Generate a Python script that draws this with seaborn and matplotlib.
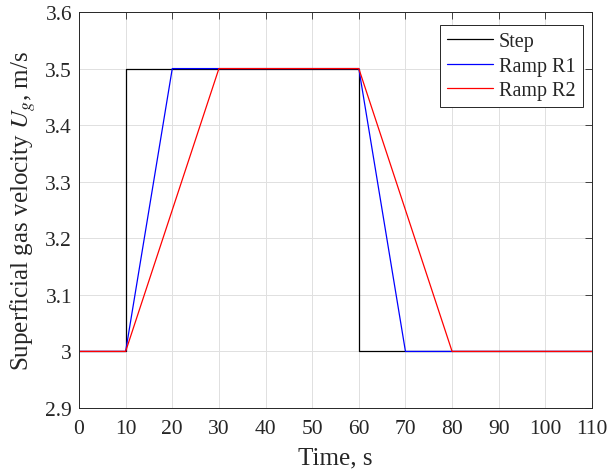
import matplotlib
matplotlib.use("Agg")
import matplotlib.pyplot as plt
import seaborn as sns
import pandas as pd

step_t = [0, 10, 10, 60, 60, 110]
step_u = [3.0, 3.0, 3.5, 3.5, 3.0, 3.0]
r1_t = [0, 10, 20, 60, 70, 110]
r1_u = [3.0, 3.0, 3.5, 3.5, 3.0, 3.0]
r2_t = [0, 10, 30, 60, 80, 110]
r2_u = [3.0, 3.0, 3.5, 3.5, 3.0, 3.0]
names = ["Step", "Ramp R1", "Ramp R2"]
colors = ["black", "blue", "red"]
x_ticks = list(range(0, 111, 10))
y_ticks = [2.9, 3.0, 3.1, 3.2, 3.3, 3.4, 3.5, 3.6]
y_ticklabels = ["2.9", "3", "3.1", "3.2", "3.3", "3.4", "3.5", "3.6"]

rows = []
for name, ts, us in zip(names, [step_t, r1_t, r2_t], [step_u, r1_u, r2_u]):
    for t, u in zip(ts, us):
        rows.append({"t": t, "u": u, "series": name})
df = pd.DataFrame(rows)

sns.set_style("white")
plt.rcParams["font.family"] = ["Liberation Serif", "DejaVu Serif"]
plt.rcParams["mathtext.fontset"] = "stix"

fig = plt.figure(figsize=(6.09, 4.77), dpi=100)
L, R, T, B = 79, 592, 13, 409
W, H = 609, 477
ax = fig.add_axes([L / W, 1 - B / H, (R - L) / W, (B - T) / H])
sns.lineplot(data=df, x="t", y="u", hue="series", hue_order=names,
             palette=dict(zip(names, colors)), sort=False, estimator=None,
             lw=0.9, ax=ax)

ax.set_xlim(0, 110)
ax.set_ylim(2.9, 3.6)
ax.set_xticks(x_ticks)
ax.set_yticks(y_ticks)
ax.set_yticklabels(y_ticklabels)
ax.grid(True, color="#e0e0e0", lw=0.7)
ax.set_axisbelow(True)
ax.tick_params(direction="in", top=True, right=True, labelsize=15.5, length=5,
               width=0.6, color="#262626", labelcolor="#262626")
ax.tick_params(axis="x", pad=8)
ax.tick_params(axis="y", pad=5)
for s in ax.spines.values():
    s.set_color("#262626")
    s.set_linewidth(0.7)
ax.set_xlabel("Time, s", fontsize=18, labelpad=6, color="#262626")
ax.set_ylabel(r"Superficial gas velocity $U_g$, m/s", fontsize=18, labelpad=5, color="#262626")
leg = ax.legend(loc="upper right", bbox_to_anchor=(0.982, 0.967), borderaxespad=0,
                fontsize=14.5, frameon=True, fancybox=False,
                edgecolor="#262626", framealpha=1, borderpad=0.35, labelspacing=0.27,
                handlelength=2.3, handletextpad=0.3)
leg.get_frame().set_linewidth(0.7)
fig.savefig("out.png", dpi=100)
